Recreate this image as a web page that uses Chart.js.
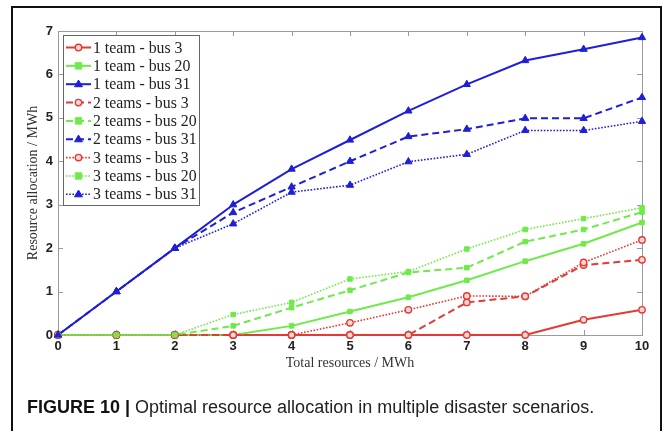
<!DOCTYPE html>
<html>
<head>
<meta charset="utf-8">
<script src="https://cdn.jsdelivr.net/npm/chart.js@4/dist/chart.umd.min.js"></script>
<style>
  html, body { margin: 0; padding: 0; background: #fff; }
  #wrap { position: relative; width: 664px; height: 431px; overflow: hidden; background: #fff; }
  #frame { position: absolute; left: 11px; top: 6px; width: 651px; height: 440px; border: 2px solid #111; box-sizing: border-box; }
  #chart { position: absolute; left: 0; top: 0; }
  #caption { position: absolute; left: 27px; top: 397px; font-family: "Liberation Sans", Arial, sans-serif; font-size: 18px; color: #222; white-space: nowrap; line-height: 20px; }
  #caption b { font-weight: bold; color: #111; }
</style>
</head>
<body>
<div id="wrap">
  <div id="frame"></div>
  <canvas id="chart" width="664" height="431"></canvas>
  <div id="caption"><b>FIGURE 10 |</b> Optimal resource allocation in multiple disaster scenarios.</div>
</div>
<script>
// ---- data ----
const totalResources = [0, 1, 2, 3, 4, 5, 6, 7, 8, 9, 10];
const team1_bus3   = [0, 0, 0, 0, 0, 0, 0, 0, 0, 0.35, 0.58];
const team1_bus20  = [0, 0, 0, 0, 0.21, 0.54, 0.87, 1.26, 1.70, 2.10, 2.59];
const team1_bus31  = [0, 1, 2, 3.00, 3.82, 4.49, 5.16, 5.77, 6.32, 6.58, 6.85];
const teams2_bus3  = [0, 0, 0, 0, 0, 0, 0, 0.75, 0.89, 1.61, 1.73];
const teams2_bus20 = [0, 0, 0, 0.21, 0.63, 1.03, 1.44, 1.55, 2.15, 2.43, 2.83];
const teams2_bus31 = [0, 1, 2, 2.82, 3.41, 4.00, 4.57, 4.74, 4.99, 4.99, 5.47];
const teams3_bus3  = [0, 0, 0, 0, 0, 0.28, 0.58, 0.90, 0.89, 1.67, 2.19];
const teams3_bus20 = [0, 0, 0, 0.47, 0.75, 1.29, 1.46, 1.98, 2.43, 2.68, 2.93];
const teams3_bus31 = [0, 1, 2, 2.56, 3.29, 3.45, 3.99, 4.16, 4.71, 4.71, 4.92];
const seriesLabels = ['1 team - bus 3', '1 team - bus 20', '1 team - bus 31',
                      '2 teams - bus 3', '2 teams - bus 20', '2 teams - bus 31',
                      '3 teams - bus 3', '3 teams - bus 20', '3 teams - bus 31'];
const seriesValues = [team1_bus3, team1_bus20, team1_bus31,
                      teams2_bus3, teams2_bus20, teams2_bus31,
                      teams3_bus3, teams3_bus20, teams3_bus31];
const xTicks = [0, 1, 2, 3, 4, 5, 6, 7, 8, 9, 10];
const yTicks = [0, 1, 2, 3, 4, 5, 6, 7];

// ---- styles ----
const RED = '#e23a35', GREEN = '#6fea4a', BLUE = '#1f1fd8';
const colorOf = [RED, GREEN, BLUE];
const markerOf = ['circle', 'rect', 'triangle'];
const dashOf = [[], [7, 4], [1.6, 1.6]];
const widthOf = [2, 2, 1.6];

const datasets = seriesValues.map((vals, i) => {
  const c = colorOf[i % 3], m = markerOf[i % 3], g = Math.floor(i / 3);
  return {
    label: seriesLabels[i],
    data: totalResources.map((x, k) => ({x: x, y: vals[k]})),
    borderColor: c,
    backgroundColor: c,
    borderWidth: widthOf[g],
    borderDash: dashOf[g],
    pointStyle: m,
    pointRadius: m === 'triangle' ? 4.2 : 3.2,
    pointBorderWidth: m === 'circle' ? 1.4 : 1,
    pointBackgroundColor: m === 'circle' ? '#ffd9d6' : c,
    pointBorderColor: c,
    showLine: true,
    fill: false,
    tension: 0,
    clip: false,
    order: 8 - i
  };
});

function drawMarker(ctx, style, x, y, r, fill, stroke, bw) {
  ctx.save();
  ctx.setLineDash([]);
  ctx.fillStyle = fill; ctx.strokeStyle = stroke; ctx.lineWidth = bw;
  ctx.beginPath();
  if (style === 'circle') {
    ctx.arc(x, y, r, 0, Math.PI * 2);
  } else if (style === 'rect') {
    ctx.rect(x - r, y - r, 2 * r, 2 * r);
  } else {
    ctx.moveTo(x, y - r);
    ctx.lineTo(x + r * 0.95, y + r * 0.6);
    ctx.lineTo(x - r * 0.95, y + r * 0.6);
    ctx.closePath();
  }
  ctx.fill(); ctx.stroke();
  ctx.restore();
}

const boxPlugin = {
  id: 'matlabBox',
  beforeDatasetsDraw(chart) {
    const {ctx, chartArea: a, scales} = chart;
    ctx.save();
    ctx.strokeStyle = '#9a9a9a';
    ctx.lineWidth = 1;
    ctx.strokeRect(a.left + 0.5, a.top + 0.5, a.right - a.left, a.bottom - a.top);
    const tl = 5;
    ctx.beginPath();
    xTicks.forEach(v => {
      const px = Math.round(scales.x.getPixelForValue(v)) + 0.5;
      ctx.moveTo(px, a.bottom); ctx.lineTo(px, a.bottom - tl);
      ctx.moveTo(px, a.top); ctx.lineTo(px, a.top + tl);
    });
    yTicks.forEach(v => {
      const py = Math.round(scales.y.getPixelForValue(v)) + 0.5;
      ctx.moveTo(a.left, py); ctx.lineTo(a.left + tl, py);
      ctx.moveTo(a.right, py); ctx.lineTo(a.right - tl, py);
    });
    ctx.stroke();
    ctx.restore();
  },
  afterDatasetsDraw(chart) {
    const {ctx} = chart;
    const bx = 63, by = 35, bw = 136, rowH = 18.35, bh = 170;
    ctx.save();
    ctx.fillStyle = '#fff';
    ctx.fillRect(bx, by, bw, bh);
    ctx.strokeStyle = '#666';
    ctx.lineWidth = 1;
    ctx.strokeRect(bx + 0.5, by + 0.5, bw, bh);
    ctx.font = '15.8px "Liberation Serif", "Times New Roman", serif';
    ctx.textBaseline = 'middle';
    ctx.textAlign = 'left';
    chart.data.datasets.forEach((ds, i) => {
      const y = by + 12.5 + i * rowH;
      ctx.save();
      ctx.strokeStyle = ds.borderColor;
      ctx.lineWidth = ds.borderWidth;
      ctx.setLineDash(ds.borderDash);
      ctx.beginPath();
      ctx.moveTo(66, y); ctx.lineTo(91, y);
      ctx.stroke();
      ctx.restore();
      drawMarker(ctx, ds.pointStyle, 78.5, y, ds.pointRadius, ds.pointBackgroundColor, ds.pointBorderColor, ds.pointBorderWidth);
      ctx.fillStyle = '#222';
      ctx.fillText(ds.label, 93, y + 1);
    });
    ctx.restore();
  }
};

const tickFont = {family: '"Liberation Sans", Arial, sans-serif', size: 13, weight: 'bold'};
const titleFont = {family: '"Liberation Serif", "Times New Roman", serif', size: 14, weight: 'normal'};

new Chart(document.getElementById('chart'), {
  type: 'scatter',
  data: {datasets: datasets},
  options: {
    responsive: false,
    animation: false,
    layout: {padding: {left: 14, top: 31, right: 22, bottom: 59}},
    plugins: {legend: {display: false}, tooltip: {enabled: false}},
    elements: {line: {borderJoinStyle: 'round'}},
    scales: {
      x: {
        type: 'linear', min: 0, max: 10,
        afterBuildTicks: (s) => { s.ticks = xTicks.map(v => ({value: v})); },
        afterFit: (s) => { s.height = 37; },
        grid: {display: false, drawTicks: false},
        border: {display: false},
        ticks: {font: tickFont, color: '#222', padding: 4, maxRotation: 0, autoSkip: false},
        title: {display: true, text: 'Total resources / MWh', font: titleFont, color: '#333', padding: {top: 0, bottom: 0}}
      },
      y: {
        type: 'linear', min: 0, max: 7,
        afterBuildTicks: (s) => { s.ticks = yTicks.map(v => ({value: v})); },
        afterFit: (s) => { s.width = 44; },
        grid: {display: false, drawTicks: false},
        border: {display: false},
        ticks: {font: tickFont, color: '#222', padding: 5, autoSkip: false},
        title: {display: true, text: 'Resource allocation / MWh', font: titleFont, color: '#333', padding: {top: 11, bottom: 0}}
      }
    }
  },
  plugins: [boxPlugin]
});
</script>
</body>
</html>
